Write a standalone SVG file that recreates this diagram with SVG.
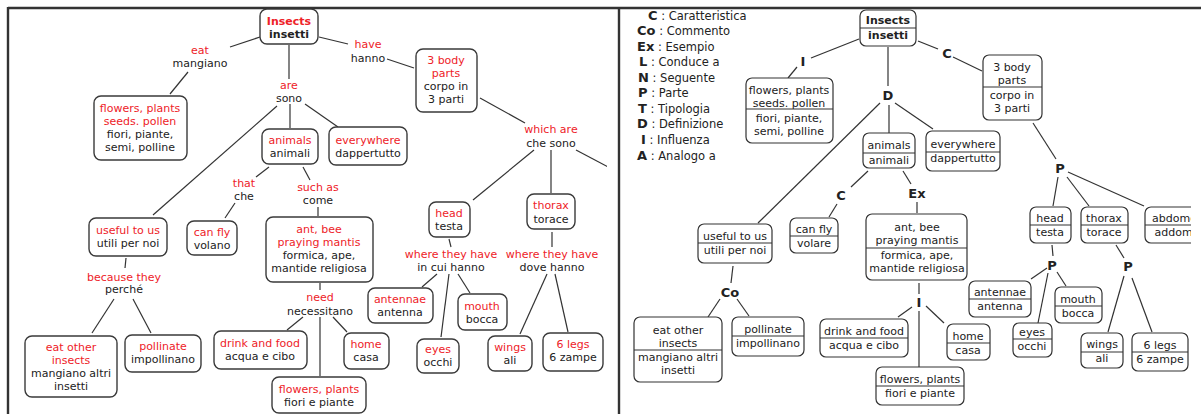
<svg xmlns="http://www.w3.org/2000/svg" width="1201" height="414" viewBox="0 0 1201 414">
<style>
text{font-family:"DejaVu Sans","Liberation Sans",sans-serif;font-size:11px;text-anchor:middle;fill:#222}
.r{fill:#ee2228}
.b{font-weight:bold}
.nb{fill:#fff;stroke:#3a3a3a;stroke-width:1.4}
.rb{fill:#fff;stroke:#333;stroke-width:1.2}
.dv{stroke:#333;stroke-width:1.1}
.cn line{stroke:#333;stroke-width:1.2}
.lg{text-anchor:start;font-size:11.5px}
.lk{font-weight:bold;font-size:13px}
</style>
<defs>
<clipPath id="cl"><rect x="9" y="9" width="598" height="405"/></clipPath>
<clipPath id="cr"><rect x="620" y="9" width="571" height="405"/></clipPath>
</defs>
<rect width="1201" height="414" fill="#fff"/>
<g id="frame" stroke="#333" stroke-width="2.4" fill="none">
<line x1="8" y1="8" x2="1201" y2="8"/>
<line x1="8" y1="7" x2="8" y2="414"/>
<line x1="619" y1="8" x2="619" y2="414"/>
</g>
<g id="left" clip-path="url(#cl)">
<g id="left-connectors" class="cn">
<line x1="260" y1="37" x2="230" y2="47"/><line x1="188" y1="72" x2="170" y2="94"/>
<line x1="289" y1="45" x2="289" y2="79"/>
<line x1="290" y1="104" x2="290" y2="128"/><line x1="305" y1="104" x2="338" y2="127"/><line x1="277" y1="106" x2="153" y2="215"/>
<line x1="269" y1="167" x2="256" y2="177"/><line x1="235" y1="203" x2="225" y2="218"/>
<line x1="303" y1="167" x2="310" y2="180"/><line x1="318" y1="207" x2="318" y2="216"/>
<line x1="320" y1="283" x2="320" y2="290"/><line x1="303" y1="317" x2="287" y2="330"/><line x1="320" y1="317" x2="320" y2="376"/><line x1="333" y1="317" x2="347" y2="332"/>
<line x1="126" y1="258" x2="125" y2="268"/><line x1="114" y1="299" x2="92" y2="333"/><line x1="133" y1="299" x2="151" y2="333"/>
<line x1="319" y1="37" x2="348" y2="44"/><line x1="387" y1="59" x2="414" y2="68"/>
<line x1="480" y1="98" x2="525" y2="123"/><line x1="534" y1="150" x2="473" y2="200"/><line x1="551" y1="150" x2="551" y2="193"/><line x1="576" y1="150" x2="612" y2="169"/>
<line x1="449" y1="239" x2="451" y2="247"/><line x1="437" y1="274" x2="422" y2="287"/><line x1="449" y1="274" x2="441" y2="337"/><line x1="458" y1="274" x2="470" y2="293"/>
<line x1="552" y1="232" x2="552" y2="247"/><line x1="547" y1="274" x2="520" y2="334"/><line x1="555" y1="274" x2="568" y2="332"/>
</g>
<g id="l-insects"><rect class="nb" x="260" y="9" width="58" height="35" rx="7"/><text class="r b" x="289" y="25">Insects</text><text class="b" x="289" y="38">insetti</text></g>
<g id="l-eat"><text class="r" x="200" y="54">eat</text><text x="200" y="67">mangiano</text></g>
<g id="l-flowers"><rect class="nb" x="94" y="96" width="93" height="64" rx="7"/><text class="r" x="140" y="112">flowers, plants</text><text class="r" x="140" y="125">seeds. pollen</text><text x="140" y="138">fiori, piante,</text><text x="140" y="151">semi, polline</text></g>
<g id="l-are"><text class="r" x="289" y="89">are</text><text x="289" y="102">sono</text></g>
<g id="l-animals"><rect class="nb" x="262" y="129" width="56" height="35" rx="7"/><text class="r" x="290" y="144">animals</text><text x="290" y="157">animali</text></g>
<g id="l-everywhere"><rect class="nb" x="329" y="127" width="78" height="38" rx="7"/><text class="r" x="368" y="144">everywhere</text><text x="368" y="157">dappertutto</text></g>
<g id="l-that"><text class="r" x="244" y="187">that</text><text x="244" y="200">che</text></g>
<g id="l-such"><text class="r" x="318" y="191">such as</text><text x="318" y="204">come</text></g>
<g id="l-canfly"><rect class="nb" x="187" y="221" width="50" height="34" rx="7"/><text class="r" x="212" y="236">can fly</text><text x="212" y="249">volano</text></g>
<g id="l-ant"><rect class="nb" x="266" y="217" width="107" height="65" rx="7"/><text class="r" x="319" y="233">ant, bee</text><text class="r" x="319" y="246">praying mantis</text><text x="319" y="259">formica, ape,</text><text x="319" y="272">mantide religiosa</text></g>
<g id="l-need"><text class="r" x="320" y="301">need</text><text x="320" y="315">necessitano</text></g>
<g id="l-drink"><rect class="nb" x="214" y="331" width="93" height="38" rx="7"/><text class="r" x="260" y="347">drink and food</text><text x="260" y="360">acqua e cibo</text></g>
<g id="l-home"><rect class="nb" x="344" y="333" width="45" height="36" rx="7"/><text class="r" x="366" y="348">home</text><text x="366" y="361">casa</text></g>
<g id="l-flowers2"><rect class="nb" x="272" y="377" width="94" height="36" rx="7"/><text class="r" x="319" y="393">flowers, plants</text><text x="319" y="406">fiori e piante</text></g>
<g id="l-useful"><rect class="nb" x="89" y="218" width="78" height="38" rx="7"/><text class="r" x="128" y="234">useful to us</text><text x="128" y="247">utili per noi</text></g>
<g id="l-because"><text class="r" x="124" y="281">because they</text><text x="124" y="293">perché</text></g>
<g id="l-eatother"><rect class="nb" x="25" y="336" width="92" height="61" rx="7"/><text class="r" x="71" y="351">eat other</text><text class="r" x="71" y="364">insects</text><text x="71" y="377">mangiano altri</text><text x="71" y="390">insetti</text></g>
<g id="l-pollinate"><rect class="nb" x="125" y="335" width="76" height="37" rx="7"/><text class="r" x="163" y="350">pollinate</text><text x="163" y="363">impollinano</text></g>
<g id="l-have"><text class="r" x="368" y="48">have</text><text x="368" y="62">hanno</text></g>
<g id="l-3body"><rect class="nb" x="416" y="49" width="61" height="63" rx="7"/><text class="r" x="446" y="64">3 body</text><text class="r" x="446" y="77">parts</text><text x="446" y="90">corpo in</text><text x="446" y="103">3 parti</text></g>
<g id="l-which"><text class="r" x="551" y="133">which are</text><text x="551" y="147">che sono</text></g>
<g id="l-head"><rect class="nb" x="429" y="202" width="41" height="35" rx="7"/><text class="r" x="449" y="217">head</text><text x="449" y="230">testa</text></g>
<g id="l-thorax"><rect class="nb" x="527" y="194" width="48" height="35" rx="7"/><text class="r" x="551" y="209">thorax</text><text x="551" y="223">torace</text></g>
<g id="l-wherehead"><text class="r" x="451" y="258">where they have</text><text x="451" y="271">in cui hanno</text></g>
<g id="l-antennae"><rect class="nb" x="368" y="288" width="65" height="35" rx="7"/><text class="r" x="400" y="303">antennae</text><text x="400" y="316">antenna</text></g>
<g id="l-mouth"><rect class="nb" x="458" y="294" width="49" height="36" rx="7"/><text class="r" x="482" y="310">mouth</text><text x="482" y="323">bocca</text></g>
<g id="l-eyes"><rect class="nb" x="417" y="339" width="42" height="34" rx="7"/><text class="r" x="438" y="353">eyes</text><text x="438" y="366">occhi</text></g>
<g id="l-wherethorax"><text class="r" x="552" y="258">where they have</text><text x="552" y="271">dove hanno</text></g>
<g id="l-wings"><rect class="nb" x="488" y="336" width="44" height="35" rx="7"/><text class="r" x="510" y="351">wings</text><text x="510" y="364">ali</text></g>
<g id="l-6legs"><rect class="nb" x="543" y="333" width="60" height="38" rx="7"/><text class="r" x="573" y="348">6 legs</text><text x="573" y="361">6 zampe</text></g>
</g>
<g id="legend">
<text class="lg" x="648" y="20"><tspan class="lk">C</tspan> : Caratteristica</text>
<text class="lg" x="637" y="35"><tspan class="lk">Co</tspan> : Commento</text>
<text class="lg" x="637" y="51"><tspan class="lk">Ex</tspan> : Esempio</text>
<text class="lg" x="639" y="66"><tspan class="lk">L</tspan> : Conduce a</text>
<text class="lg" x="638" y="82"><tspan class="lk">N</tspan> : Seguente</text>
<text class="lg" x="638" y="97"><tspan class="lk">P</tspan> : Parte</text>
<text class="lg" x="638" y="113"><tspan class="lk">T</tspan> : Tipologia</text>
<text class="lg" x="637" y="128"><tspan class="lk">D</tspan> : Definizione</text>
<text class="lg" x="641" y="144"><tspan class="lk">I</tspan> : Influenza</text>
<text class="lg" x="637" y="160"><tspan class="lk">A</tspan> : Analogo a</text>
</g>
<g id="right" clip-path="url(#cr)">
<g id="right-connectors" class="cn">
<line x1="859" y1="39" x2="811" y2="58"/><line x1="797" y1="67" x2="788" y2="78"/>
<line x1="888" y1="47" x2="888" y2="86"/><line x1="889" y1="105" x2="889" y2="133"/><line x1="895" y1="103" x2="933" y2="129"/><line x1="880" y1="103" x2="758" y2="223"/>
<line x1="868" y1="171" x2="851" y2="187"/><line x1="837" y1="204" x2="829" y2="217"/>
<line x1="903" y1="171" x2="911" y2="184"/><line x1="917" y1="202" x2="917" y2="213"/>
<line x1="919" y1="283" x2="919" y2="294"/><line x1="912" y1="307" x2="898" y2="317"/><line x1="926" y1="306" x2="944" y2="323"/><line x1="919" y1="311" x2="919" y2="367"/>
<line x1="733" y1="266" x2="731" y2="283"/><line x1="720" y1="299" x2="708" y2="317"/><line x1="737" y1="299" x2="749" y2="316"/>
<line x1="918" y1="41" x2="938" y2="49"/><line x1="953" y1="57" x2="982" y2="71"/>
<line x1="1033" y1="123" x2="1056" y2="159"/><line x1="1058" y1="177" x2="1053" y2="206"/><line x1="1067" y1="177" x2="1089" y2="206"/><line x1="1068" y1="172" x2="1144" y2="206"/>
<line x1="1052" y1="245" x2="1053" y2="256"/><line x1="1047" y1="268" x2="1031" y2="279"/><line x1="1048" y1="273" x2="1038" y2="323"/><line x1="1057" y1="272" x2="1066" y2="286"/>
<line x1="1116" y1="245" x2="1124" y2="258"/><line x1="1124" y1="276" x2="1108" y2="332"/><line x1="1132" y1="278" x2="1152" y2="332"/>
</g>
<g id="r-links">
<text class="lk" x="803" y="66">I</text>
<text class="lk" x="888" y="100">D</text>
<text class="lk" x="841" y="200">C</text>
<text class="lk" x="917" y="198">Ex</text>
<text class="lk" x="919" y="307">I</text>
<text class="lk" x="730" y="297">Co</text>
<text class="lk" x="947" y="58">C</text>
<text class="lk" x="1060" y="173">P</text>
<text class="lk" x="1052" y="270">P</text>
<text class="lk" x="1128" y="271">P</text>
</g>
<g id="r-insects"><rect class="rb" x="860" y="10" width="56" height="36" rx="6"/><line class="dv" x1="860" y1="28" x2="916" y2="28"/><text class="b" x="888" y="24">Insects</text><text class="b" x="888" y="39">insetti</text></g>
<g id="r-flowers"><rect class="rb" x="746" y="78" width="87" height="65" rx="6"/><line class="dv" x1="746" y1="109" x2="833" y2="109"/><text x="789" y="94">flowers, plants</text><text x="789" y="107">seeds. pollen</text><text x="789" y="122">fiori, piante,</text><text x="789" y="135">semi, polline</text></g>
<g id="r-animals"><rect class="rb" x="863" y="133" width="52" height="35" rx="6"/><line class="dv" x1="863" y1="153" x2="915" y2="153"/><text x="889" y="149">animals</text><text x="889" y="164">animali</text></g>
<g id="r-everywhere"><rect class="rb" x="926" y="131" width="74" height="40" rx="6"/><line class="dv" x1="926" y1="152" x2="1000" y2="152"/><text x="963" y="148">everywhere</text><text x="963" y="162">dappertutto</text></g>
<g id="r-canfly"><rect class="rb" x="790" y="218" width="48" height="35" rx="6"/><line class="dv" x1="790" y1="236" x2="838" y2="236"/><text x="814" y="233">can fly</text><text x="814" y="247">volare</text></g>
<g id="r-ant"><rect class="rb" x="866" y="214" width="101" height="66" rx="6"/><line class="dv" x1="866" y1="248" x2="967" y2="248"/><text x="917" y="231">ant, bee</text><text x="917" y="244">praying mantis</text><text x="917" y="259">formica, ape,</text><text x="917" y="272">mantide religiosa</text></g>
<g id="r-drink"><rect class="rb" x="820" y="319" width="88" height="38" rx="6"/><line class="dv" x1="820" y1="338" x2="908" y2="338"/><text x="864" y="335">drink and food</text><text x="864" y="349">acqua e cibo</text></g>
<g id="r-home"><rect class="rb" x="947" y="324" width="43" height="36" rx="6"/><line class="dv" x1="947" y1="343" x2="990" y2="343"/><text x="968" y="340">home</text><text x="968" y="354">casa</text></g>
<g id="r-flowers2"><rect class="rb" x="876" y="367" width="88" height="38" rx="6"/><line class="dv" x1="876" y1="386" x2="964" y2="386"/><text x="920" y="383">flowers, plants</text><text x="920" y="397">fiori e piante</text></g>
<g id="r-useful"><rect class="rb" x="698" y="224" width="74" height="39" rx="6"/><line class="dv" x1="698" y1="243" x2="772" y2="243"/><text x="735" y="240">useful to us</text><text x="735" y="254">utili per noi</text></g>
<g id="r-eatother"><rect class="rb" x="634" y="317" width="88" height="65" rx="6"/><line class="dv" x1="634" y1="350" x2="722" y2="350"/><text x="678" y="334">eat other</text><text x="678" y="347">insects</text><text x="678" y="361">mangiano altri</text><text x="678" y="374">insetti</text></g>
<g id="r-pollinate"><rect class="rb" x="732" y="317" width="72" height="39" rx="6"/><line class="dv" x1="732" y1="336" x2="804" y2="336"/><text x="768" y="333">pollinate</text><text x="768" y="347">impollinano</text></g>
<g id="r-3body"><rect class="rb" x="983" y="55" width="59" height="65" rx="6"/><line class="dv" x1="983" y1="87" x2="1042" y2="87"/><text x="1012" y="71">3 body</text><text x="1012" y="84">parts</text><text x="1012" y="99">corpo in</text><text x="1012" y="112">3 parti</text></g>
<g id="r-head"><rect class="rb" x="1030" y="207" width="41" height="36" rx="6"/><line class="dv" x1="1030" y1="225" x2="1071" y2="225"/><text x="1050" y="222">head</text><text x="1050" y="236">testa</text></g>
<g id="r-thorax"><rect class="rb" x="1081" y="207" width="47" height="36" rx="6"/><line class="dv" x1="1081" y1="225" x2="1128" y2="225"/><text x="1104" y="222">thorax</text><text x="1104" y="236">torace</text></g>
<g id="r-abdomen"><rect class="rb" x="1145" y="207" width="64" height="36" rx="6"/><line class="dv" x1="1145" y1="225" x2="1209" y2="225"/><text x="1178" y="222">abdomen</text><text x="1177" y="236">addome</text></g>
<g id="r-antennae"><rect class="rb" x="969" y="281" width="62" height="36" rx="6"/><line class="dv" x1="969" y1="299" x2="1031" y2="299"/><text x="1000" y="296">antennae</text><text x="1000" y="310">antenna</text></g>
<g id="r-mouth"><rect class="rb" x="1055" y="287" width="47" height="36" rx="6"/><line class="dv" x1="1055" y1="306" x2="1102" y2="306"/><text x="1078" y="303">mouth</text><text x="1078" y="317">bocca</text></g>
<g id="r-eyes"><rect class="rb" x="1013" y="323" width="39" height="34" rx="6"/><line class="dv" x1="1013" y1="339" x2="1052" y2="339"/><text x="1032" y="336">eyes</text><text x="1032" y="350">occhi</text></g>
<g id="r-wings"><rect class="rb" x="1081" y="333" width="42" height="35" rx="6"/><line class="dv" x1="1081" y1="352" x2="1123" y2="352"/><text x="1102" y="348">wings</text><text x="1102" y="362">ali</text></g>
<g id="r-6legs"><rect class="rb" x="1132" y="333" width="56" height="38" rx="6"/><line class="dv" x1="1132" y1="352" x2="1188" y2="352"/><text x="1160" y="349">6 legs</text><text x="1160" y="363">6 zampe</text></g>
</g>
</svg>
